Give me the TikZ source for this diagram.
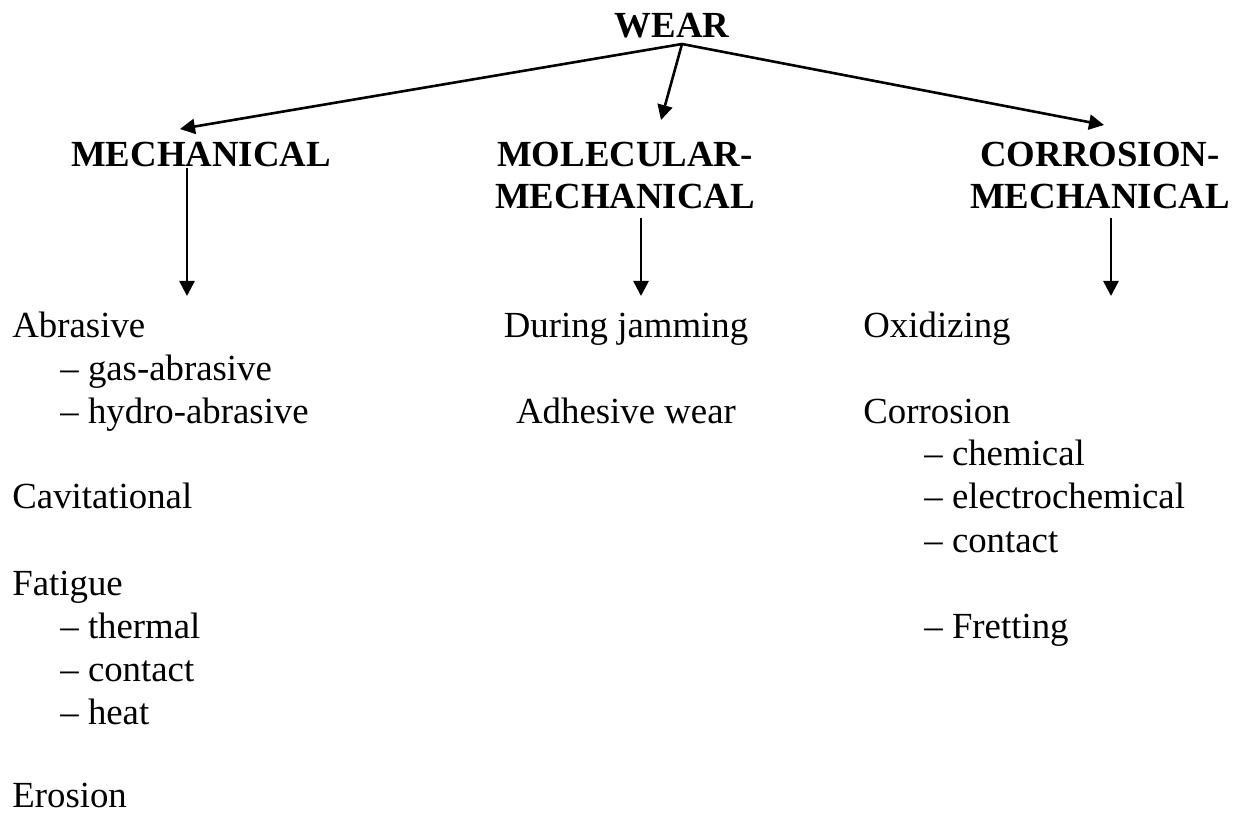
\documentclass[tikz,border=0pt]{standalone}
\usepackage{fontspec}
\setmainfont{Liberation Serif}
\usepackage{tikz}
\usetikzlibrary{arrows.meta}

\tikzset{
  head/.style={font=\fontsize{18.4}{21}\selectfont\bfseries, align=center, inner sep=0pt, anchor=north},
  item/.style={font=\fontsize{18.4}{21}\selectfont, inner sep=0pt, anchor=base west},
  citem/.style={item, anchor=base},
  link/.style={->, line width=1.3pt}
}

\begin{document}
\begin{tikzpicture}[x=0.5pt, y=-0.5pt, >={Triangle[length=7.5pt,width=7.5pt]}]
    \useasboundingbox (0,0) rectangle (1239,813);

    % Headings
    \node[head] (wear) at (672,13) {WEAR};
    \node[head] (mech) at (201,142) {MECHANICAL};
    \node[head] (molmech) at (625,142) {MOLECULAR-\\MECHANICAL};
    \node[head] (cormech) at (1100,142) {CORROSION-\\MECHANICAL};

    % Arrows from WEAR
    \coordinate (split) at (682,44);
    \coordinate (mechtip) at (180,129);
    \coordinate (moltip) at (661,120);
    \coordinate (cortip) at (1104,125);
    \draw[link] (split) -- (mechtip);
    \draw[link] (split) -- (moltip);
    \draw[link] (split) -- (cortip);

    % Arrows down to the lists
    \coordinate (mechtop) at (187,168);
    \coordinate (mechdown) at (187,296);
    \coordinate (moltop) at (641,218);
    \coordinate (moldown) at (641,296);
    \coordinate (cortop) at (1111,218);
    \coordinate (cordown) at (1111,296);
    \draw[link] (mechtop) -- (mechdown);
    \draw[link] (moltop) -- (moldown);
    \draw[link] (cortop) -- (cordown);

    % Mechanical kinds
    \node[item] (abras) at (12,337) {Abrasive};
    \node[item] (gasab) at (60,380) {-- gas-abrasive};
    \node[item] (hydab) at (60,423) {-- hydro-abrasive};
    \node[item] (cavit) at (12,509) {Cavitational};
    \node[item] (fatig) at (12,595) {Fatigue};
    \node[item] (therm) at (60,638) {-- thermal};
    \node[item] (contm) at (60,681) {-- contact};
    \node[item] (heat) at (60,724) {-- heat};
    \node[item] (erosn) at (12,807) {Erosion};

    % Molecular-mechanical kinds
    \node[citem] (jamm) at (626,337) {During jamming};
    \node[citem] (adhes) at (626,423) {Adhesive wear};

    % Corrosion-mechanical kinds
    \node[item] (oxid) at (863,337) {Oxidizing};
    \node[item] (corr) at (863,423) {Corrosion};
    \node[item] (chem) at (924,466) {-- chemical};
    \node[item] (elchem) at (924,509) {-- electrochemical};
    \node[item] (contc) at (924,552) {-- contact};
    \node[item] (frett) at (924,638) {-- Fretting};
\end{tikzpicture}
\end{document}
